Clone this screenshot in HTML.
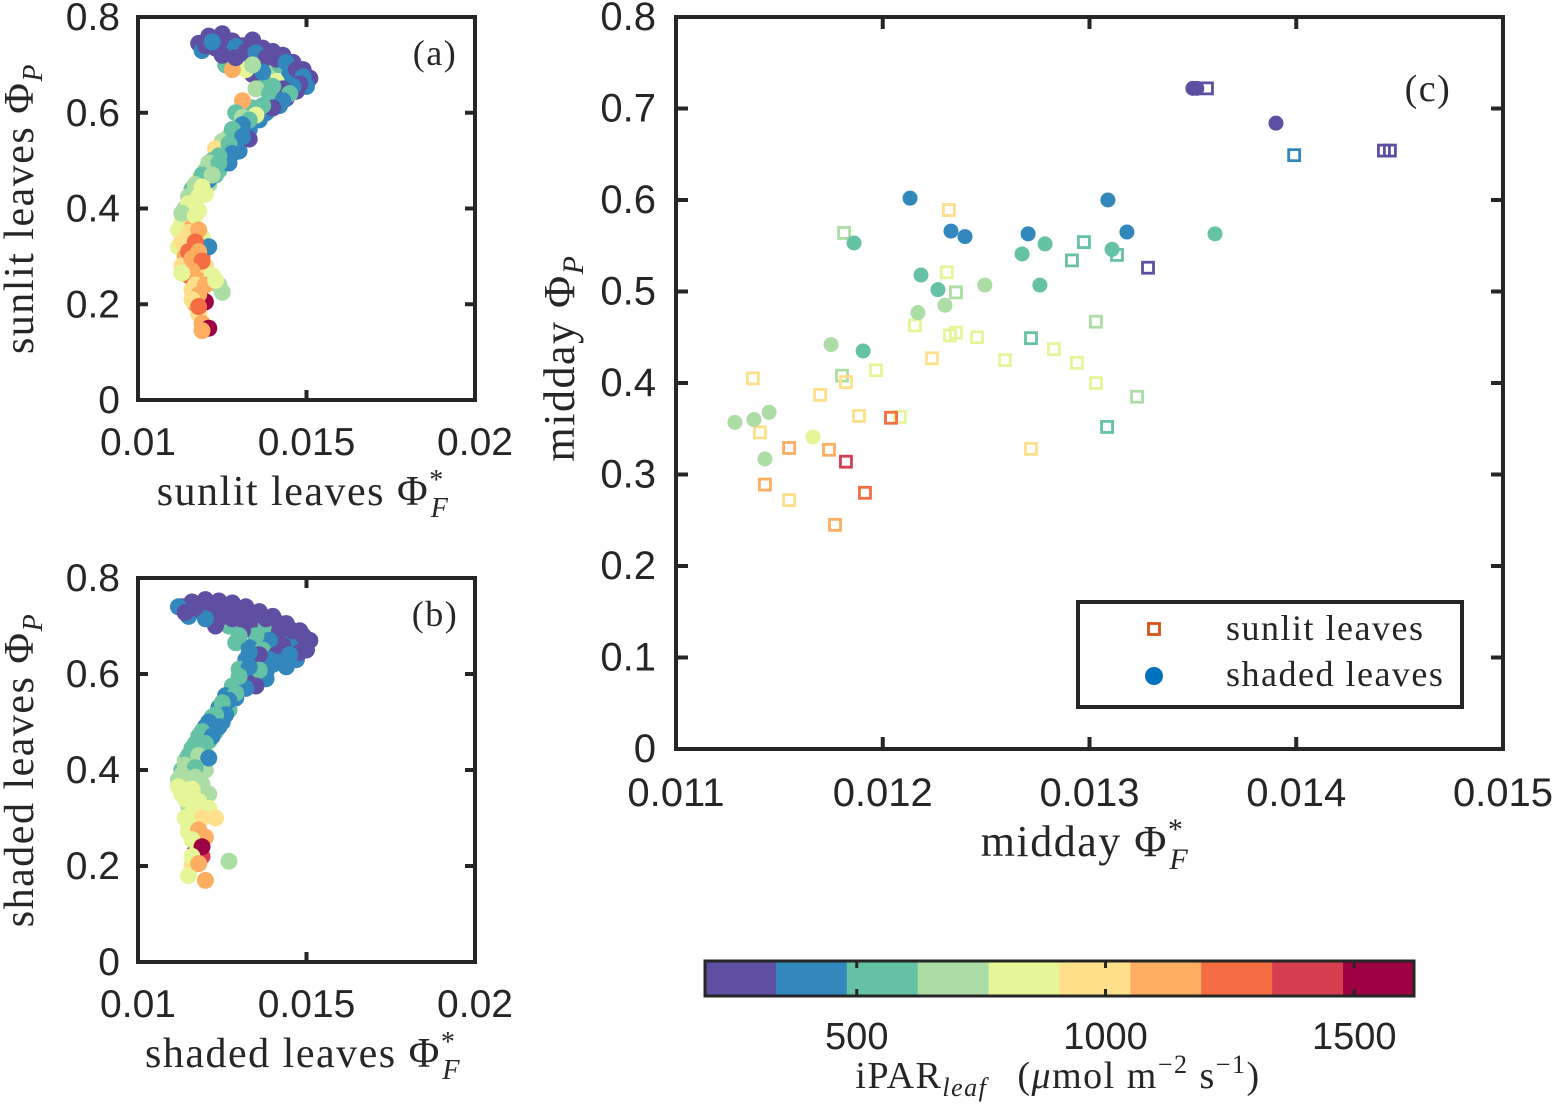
<!DOCTYPE html>
<html><head><meta charset="utf-8"><style>
html,body{margin:0;padding:0;background:#fff}
svg text{font-family:"Liberation Sans",sans-serif;fill:#262626}
.ser{font-family:"Liberation Serif",serif;letter-spacing:1.5px}
</style></head><body>
<svg id="fig" width="1553" height="1103" viewBox="0 0 1553 1103" xmlns="http://www.w3.org/2000/svg">
<g id="pa"></g>
<g id="pb"></g>
<g id="pc"></g>
<g id="cb"></g>
</svg>
<script>
const COLORS=["#5e4fa2","#3288bd","#66c2a5","#abdda4","#e6f598","#fee08b","#fdae61","#f46d43","#d53e4f","#9e0142"];
const smallXTicks=[0.01,0.015,0.02];
const smallXLabels=["0.01","0.015","0.02"];
const yTicks=[0,0.2,0.4,0.6,0.8];
const yLabels=["0","0.2","0.4","0.6","0.8"];
const cXTicks=[0.011,0.012,0.013,0.014,0.015];
const cXLabels=["0.011","0.012","0.013","0.014","0.015"];
const cYTicks=[0,0.1,0.2,0.3,0.4,0.5,0.6,0.7,0.8];
const cYLabels=["0","0.1","0.2","0.3","0.4","0.5","0.6","0.7","0.8"];
const cbTicks=[500,1000,1500];
const cbLabels=["500","1000","1500"];
const cbRange=[195,1620];
// panel a data: [PhiF, PhiP, colorIndex]
const sunlitA=[[0.0118,0.745,0],[0.0121,0.760,0],[0.0125,0.765,0],[0.0119,0.730,1],[0.0123,0.735,0],[0.0128,0.750,0],[0.0131,0.740,0],[0.0134,0.752,0],[0.0127,0.725,1],[0.0131,0.720,2],[0.0126,0.700,2],[0.0130,0.705,4],[0.0133,0.715,1],[0.0137,0.735,0],[0.0140,0.728,0],[0.0143,0.720,0],[0.0146,0.705,0],[0.0149,0.690,0],[0.0151,0.672,0],[0.0150,0.655,1],[0.0147,0.645,0],[0.0144,0.630,0],[0.0136,0.700,4],[0.0139,0.690,3],[0.0142,0.700,2],[0.0145,0.680,1],[0.0141,0.665,4],[0.0137,0.668,2],[0.0134,0.680,0],[0.0132,0.690,4],[0.0128,0.690,6],[0.0135,0.650,3],[0.0139,0.640,2],[0.0142,0.615,1],[0.0138,0.600,1],[0.0134,0.610,2],[0.0131,0.625,6],[0.0129,0.600,2],[0.0131,0.590,3],[0.0136,0.585,1],[0.0133,0.565,1],[0.0130,0.560,2],[0.0127,0.550,3],[0.0129,0.535,0],[0.0125,0.540,3],[0.0126,0.520,2],[0.0123,0.525,5],[0.0122,0.500,2],[0.0125,0.500,1],[0.0120,0.480,3],[0.0123,0.470,2],[0.0118,0.460,4],[0.0121,0.450,3],[0.0116,0.440,2],[0.0120,0.430,4],[0.0117,0.420,3],[0.0114,0.400,3],[0.0118,0.395,4],[0.0116,0.380,5],[0.0113,0.370,4],[0.0116,0.360,6],[0.0119,0.340,4],[0.0114,0.340,5],[0.0112,0.320,4],[0.0116,0.320,7],[0.0119,0.300,7],[0.0114,0.300,6],[0.0117,0.280,7],[0.0113,0.280,5],[0.0121,0.320,1],[0.0120,0.280,5],[0.0115,0.260,7],[0.0118,0.250,6],[0.0122,0.260,4],[0.0124,0.240,3],[0.0125,0.225,3],[0.0116,0.230,5],[0.0119,0.210,8],[0.0117,0.200,6],[0.0120,0.205,9],[0.0118,0.180,5],[0.0119,0.160,6],[0.0121,0.150,9],[0.0119,0.145,6],[0.0121,0.460,1],[0.0124,0.480,2],[0.0127,0.495,1],[0.0130,0.520,1],[0.0133,0.545,0]];
const sunlitB=[[0.0120,0.740,0],[0.0124,0.745,0],[0.0129,0.738,1],[0.0132,0.728,0],[0.0135,0.725,1],[0.0138,0.715,0],[0.0141,0.712,0],[0.0144,0.705,1],[0.0147,0.690,0],[0.0149,0.675,1],[0.0148,0.660,0],[0.0146,0.655,1],[0.0143,0.650,0],[0.0140,0.655,2],[0.0137,0.685,1],[0.0134,0.700,3],[0.0129,0.715,0],[0.0125,0.720,0],[0.0122,0.748,1],[0.0145,0.640,2],[0.0143,0.625,1],[0.0140,0.610,0],[0.0137,0.615,2],[0.0135,0.595,4],[0.0133,0.585,2],[0.0131,0.575,1],[0.0128,0.565,2],[0.0131,0.550,1],[0.0127,0.535,2],[0.0128,0.515,1],[0.0124,0.510,2],[0.0121,0.495,3],[0.0124,0.495,2],[0.0119,0.470,2],[0.0122,0.470,3],[0.0117,0.450,3],[0.0119,0.445,4],[0.0115,0.425,3],[0.0118,0.425,4],[0.0115,0.410,4],[0.0113,0.390,3],[0.0117,0.385,4],[0.0112,0.355,4],[0.0115,0.350,5],[0.0118,0.355,6],[0.0113,0.330,5],[0.0117,0.330,7],[0.0115,0.310,7],[0.0118,0.310,6],[0.0116,0.295,6],[0.0119,0.290,7],[0.0116,0.270,6],[0.0113,0.265,4],[0.0117,0.240,5],[0.0120,0.240,6],[0.0123,0.250,4],[0.0118,0.220,6],[0.0116,0.210,5],[0.0118,0.195,7]];
// panel b data
const shadedA=[[0.0113,0.740,0],[0.0116,0.750,0],[0.0120,0.755,0],[0.0124,0.752,0],[0.0128,0.748,0],[0.0132,0.740,0],[0.0136,0.730,0],[0.0140,0.720,0],[0.0144,0.705,0],[0.0148,0.690,0],[0.0151,0.670,0],[0.0150,0.650,0],[0.0147,0.630,1],[0.0144,0.615,1],[0.0115,0.720,1],[0.0119,0.730,0],[0.0122,0.720,1],[0.0126,0.730,0],[0.0130,0.720,0],[0.0134,0.710,0],[0.0138,0.700,2],[0.0142,0.690,0],[0.0146,0.670,1],[0.0143,0.660,0],[0.0139,0.670,1],[0.0135,0.680,2],[0.0131,0.690,0],[0.0127,0.700,2],[0.0123,0.700,0],[0.0129,0.665,2],[0.0133,0.655,1],[0.0137,0.650,2],[0.0141,0.640,0],[0.0140,0.620,1],[0.0136,0.625,2],[0.0132,0.630,1],[0.0130,0.610,2],[0.0134,0.600,1],[0.0138,0.605,1],[0.0131,0.585,1],[0.0128,0.575,2],[0.0134,0.580,0],[0.0126,0.555,1],[0.0129,0.550,1],[0.0124,0.530,1],[0.0127,0.525,2],[0.0122,0.510,2],[0.0125,0.500,1],[0.0120,0.490,1],[0.0123,0.480,2],[0.0118,0.470,2],[0.0121,0.460,2],[0.0116,0.445,2],[0.0120,0.440,4],[0.0114,0.420,3],[0.0118,0.410,1],[0.0113,0.400,2],[0.0116,0.395,3],[0.0120,0.400,3],[0.0112,0.380,3],[0.0115,0.370,4],[0.0119,0.370,3],[0.0113,0.350,4],[0.0117,0.345,4],[0.0121,0.350,3],[0.0115,0.325,3],[0.0118,0.320,6],[0.0121,0.320,4],[0.0123,0.300,5],[0.0114,0.300,4],[0.0117,0.290,6],[0.0115,0.270,4],[0.0118,0.250,8],[0.0120,0.260,6],[0.0117,0.230,9],[0.0119,0.220,8],[0.0116,0.200,5],[0.0115,0.180,4],[0.0120,0.170,6],[0.0127,0.210,3],[0.0112,0.740,1],[0.0114,0.728,0]];
const shadedB=[[0.0118,0.745,0],[0.0122,0.745,0],[0.0126,0.742,0],[0.0130,0.735,0],[0.0134,0.725,0],[0.0138,0.715,0],[0.0142,0.705,0],[0.0146,0.690,0],[0.0149,0.680,0],[0.0150,0.660,0],[0.0148,0.645,0],[0.0145,0.640,1],[0.0142,0.625,1],[0.0139,0.630,1],[0.0136,0.640,0],[0.0133,0.645,1],[0.0130,0.680,2],[0.0128,0.715,0],[0.0124,0.715,0],[0.0120,0.715,1],[0.0117,0.738,0],[0.0138,0.590,1],[0.0136,0.608,2],[0.0133,0.615,1],[0.0135,0.575,0],[0.0132,0.570,1],[0.0130,0.595,2],[0.0129,0.560,2],[0.0127,0.545,1],[0.0125,0.540,2],[0.0126,0.515,1],[0.0123,0.515,2],[0.0121,0.500,1],[0.0124,0.490,1],[0.0119,0.480,2],[0.0122,0.470,1],[0.0117,0.455,2],[0.0120,0.455,2],[0.0115,0.430,2],[0.0118,0.430,3],[0.0121,0.425,1],[0.0114,0.410,3],[0.0117,0.405,2],[0.0113,0.390,3],[0.0117,0.385,3],[0.0112,0.365,4],[0.0116,0.360,4],[0.0114,0.340,4],[0.0118,0.335,4],[0.0116,0.310,4],[0.0119,0.300,5],[0.0115,0.285,4],[0.0118,0.275,6],[0.0116,0.255,4],[0.0119,0.240,9],[0.0116,0.220,4],[0.0118,0.205,6]];
// panel c midday
const sunX=[0.013568,0.01399,0.014424,0.014453,0.013283,0.01232,0.011813,0.012973,0.013133,0.012915,0.01231,0.012354,0.012156,0.012325,0.012354,0.012456,0.012238,0.012591,0.012717,0.012828,0.013031,0.012939,0.013031,0.01323,0.013085,0.012717,0.011372,0.011406,0.011803,0.011822,0.011967,0.011697,0.011885,0.012083,0.01204,0.011547,0.01174,0.011822,0.01143,0.011547,0.011914,0.011769];
const sunY=[0.722,0.649,0.654,0.654,0.526,0.589,0.564,0.554,0.54,0.534,0.521,0.499,0.463,0.452,0.455,0.45,0.427,0.425,0.449,0.437,0.467,0.422,0.4,0.385,0.352,0.328,0.405,0.346,0.408,0.401,0.414,0.387,0.364,0.363,0.362,0.329,0.327,0.314,0.289,0.272,0.28,0.245];
const sunC=[0,1,0,0,0,5,3,2,2,2,4,3,4,4,4,4,5,4,2,4,3,4,4,3,2,5,5,5,3,5,4,5,5,4,7,6,6,8,6,5,7,6];
const shX=[0.0135,0.013519,0.013902,0.012132,0.013089,0.01233,0.012398,0.012703,0.013181,0.013607,0.011861,0.012785,0.013109,0.012674,0.012185,0.012267,0.01276,0.012494,0.012301,0.01217,0.01175,0.011905,0.01145,0.011377,0.011285,0.01143,0.011663];
const shY=[0.722,0.722,0.684,0.602,0.6,0.566,0.56,0.563,0.565,0.563,0.553,0.552,0.546,0.541,0.518,0.502,0.507,0.507,0.485,0.477,0.442,0.435,0.368,0.36,0.357,0.317,0.341];
const shC=[0,0,0,1,1,1,1,1,1,2,2,2,2,2,2,2,2,3,3,3,3,2,3,3,3,3,4];

const NS="http://www.w3.org/2000/svg";
function mk(parent,tag,attrs,txt){const e=document.createElementNS(NS,tag);for(const k in attrs)e.setAttribute(k,attrs[k]);if(txt!==undefined)e.textContent=txt;parent.appendChild(e);return e;}
function lin(d0,d1,p0,p1){return v=>p0+(v-d0)/(d1-d0)*(p1-p0);}
const AX="#262626";

function frame(g,L,T,R,B,xs,ys,xT,xL,yT,yL,tick,fs,xlabY,ylabX){
  mk(g,"rect",{x:L,y:T,width:R-L,height:B-T,fill:"none",stroke:AX,"stroke-width":4});
  xT.forEach((v,i)=>{const x=xs(v);
    mk(g,"line",{x1:x,y1:B,x2:x,y2:B-tick,stroke:AX,"stroke-width":4});
    mk(g,"line",{x1:x,y1:T,x2:x,y2:T+tick,stroke:AX,"stroke-width":4});
    const t=mk(g,"text",{x:x,y:xlabY,"text-anchor":"middle","font-size":fs},xL[i]);
    
    
  });
  yT.forEach((v,i)=>{const y=ys(v);
    mk(g,"line",{x1:L,y1:y,x2:L+tick,y2:y,stroke:AX,"stroke-width":4});
    mk(g,"line",{x1:R,y1:y,x2:R-tick,y2:y,stroke:AX,"stroke-width":4});
    const t=mk(g,"text",{x:ylabX,y:y+13,"text-anchor":"end","font-size":fs},yL[i]);
    
    
  });
}

function smallPanel(g,T,B,data,tag,xl,yl){
  const L=138,R=475;
  const xs=lin(0.01,0.02,L,R), ys=lin(0,0.8,B,T);
  data.forEach(d=>{const c=mk(g,"circle",{cx:xs(d[0]),cy:ys(d[1]),r:8.5,fill:COLORS[d[2]]});
    
    });
  frame(g,L,T,R,B,xs,ys,smallXTicks,smallXLabels,yTicks,yLabels,10,39,B+55,120);
  const p=mk(g,"text",{x:435,y:T+48,"text-anchor":"middle","font-size":36,class:"ser"},tag);
  
  
  const xlab=mk(g,"text",{x:303,y:B+105,"text-anchor":"middle","font-size":42,class:"ser"});
  xlab.innerHTML=xl+' Φ<tspan dy="-16" font-size="28">*</tspan><tspan dy="28" dx="-14" font-size="28" font-style="italic">F</tspan>';
  
  
  const ylab=mk(g,"text",{transform:`translate(33,${(T+B)/2}) rotate(-90)`,"text-anchor":"middle","font-size":42,class:"ser"});
  ylab.innerHTML=yl+' Φ<tspan dy="9" font-size="28" font-style="italic">P</tspan>';
  
  
}
smallPanel(document.getElementById("pa"),17,400,sunlitA.concat(sunlitB),"(a)","sunlit leaves","sunlit leaves");
smallPanel(document.getElementById("pb"),578,962,shadedA.concat(shadedB),"(b)","shaded leaves","shaded leaves");

// panel c
(function(){
  const g=document.getElementById("pc");
  const L=676,R=1503,T=17,B=749;
  const xs=lin(0.011,0.015,L,R), ys=lin(0,0.8,B,T);
  sunX.forEach((v,i)=>{const s=mk(g,"rect",{x:xs(v)-5.5,y:ys(sunY[i])-5.5,width:11,height:11,fill:"none",stroke:COLORS[sunC[i]],"stroke-width":2.8});
    
    });
  shX.forEach((v,i)=>{const c=mk(g,"circle",{cx:xs(v),cy:ys(shY[i]),r:7.5,fill:COLORS[shC[i]]});
    
    });
  frame(g,L,T,R,B,xs,ys,cXTicks,cXLabels,cYTicks,cYLabels,12,40,B+57,656);
  const p=mk(g,"text",{x:1428,y:101,"text-anchor":"middle","font-size":38,class:"ser"},"(c)");
  
  
  const xlab=mk(g,"text",{x:1085,y:856,"text-anchor":"middle","font-size":44,class:"ser"});
  xlab.innerHTML='midday Φ<tspan dy="-17" font-size="30">*</tspan><tspan dy="30" dx="-15" font-size="30" font-style="italic">F</tspan>';
  
  
  const ylab=mk(g,"text",{transform:`translate(574,${(T+B)/2-25}) rotate(-90)`,"text-anchor":"middle","font-size":44,class:"ser"});
  ylab.innerHTML='midday Φ<tspan dy="9" font-size="30" font-style="italic">P</tspan>';
  
  
  const lg=mk(g,"g",{});
  
  
  mk(lg,"rect",{x:1078,y:602,width:384,height:105,fill:"#fff",stroke:AX,"stroke-width":4});
  mk(lg,"rect",{x:1148.5,y:623.5,width:11,height:11,fill:"none",stroke:"#d95319","stroke-width":2.8});
  mk(lg,"circle",{cx:1154,cy:676,r:9,fill:"#0072bd"});
  mk(lg,"text",{x:1226,y:640,"font-size":36,class:"ser"},"sunlit leaves");
  mk(lg,"text",{x:1226,y:686,"font-size":36,class:"ser"},"shaded leaves");
})();

// colorbar
(function(){
  const g=document.getElementById("cb");
  const L=705,R=1414,T=961,B=996;
  const xs=lin(cbRange[0],cbRange[1],L,R);
  const w=(R-L)/COLORS.length;
  COLORS.forEach((c,i)=>{const r=mk(g,"rect",{x:L+i*w,y:T,width:w+0.5,height:B-T,fill:c});
    
    });
  mk(g,"rect",{x:L,y:T,width:R-L,height:B-T,fill:"none",stroke:AX,"stroke-width":3});
  cbTicks.forEach((v,i)=>{const x=xs(v);
    mk(g,"line",{x1:x,y1:B,x2:x,y2:B-7,stroke:AX,"stroke-width":3});
    mk(g,"line",{x1:x,y1:T,x2:x,y2:T+7,stroke:AX,"stroke-width":3});
    mk(g,"text",{x:x,y:1049,"text-anchor":"middle","font-size":38},cbLabels[i]);});
  const t=mk(g,"text",{x:1058,y:1088,"text-anchor":"middle","font-size":38,class:"ser"});
  t.innerHTML='iPAR<tspan dy="8" font-size="26" font-style="italic">leaf</tspan><tspan dy="-8" dx="30">(</tspan><tspan font-style="italic">μ</tspan>mol m<tspan dy="-15" font-size="26">−2</tspan><tspan dy="15"> s</tspan><tspan dy="-15" font-size="26">−1</tspan><tspan dy="15">)</tspan>';
  
  
})();
</script>
</body></html>
